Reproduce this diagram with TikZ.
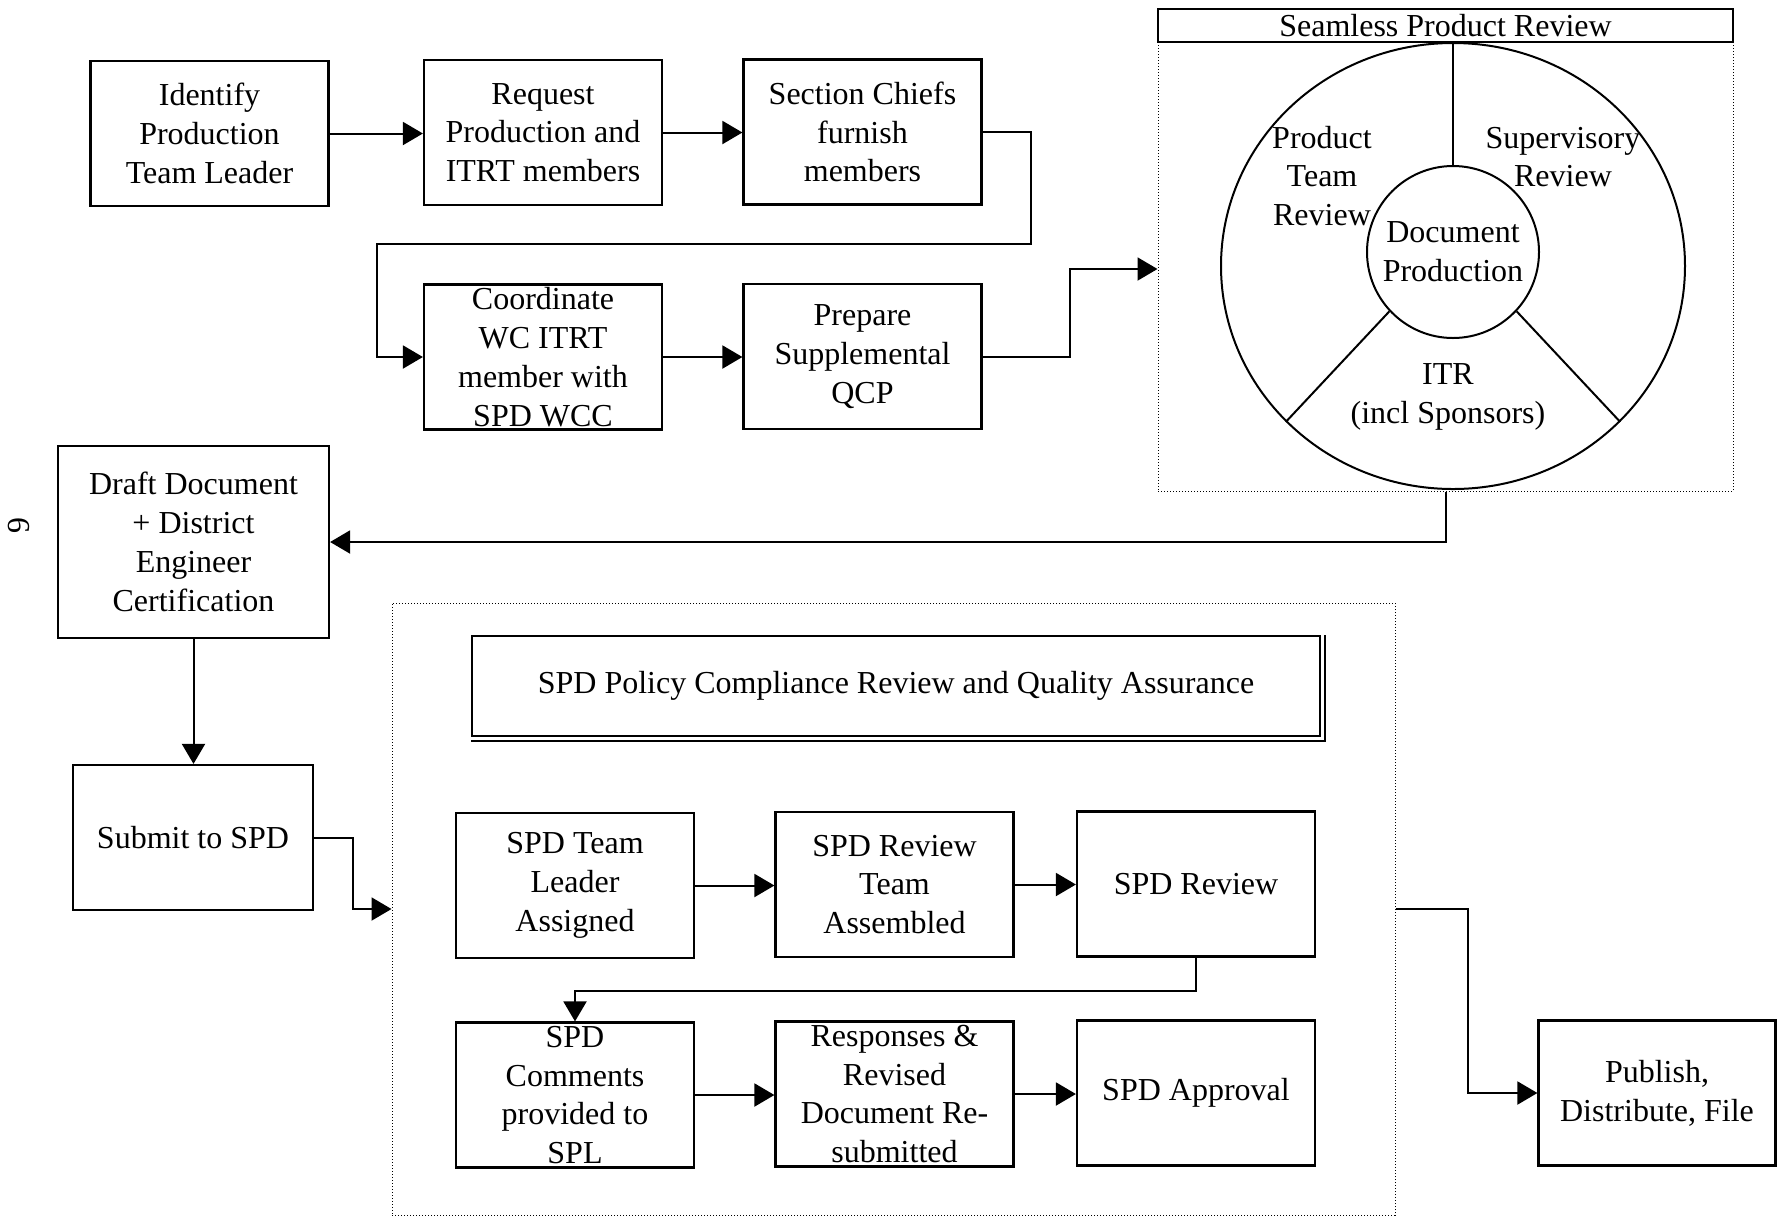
\documentclass[tikz,border=0pt]{standalone}
\usepackage{fontspec}
\setmainfont{Liberation Serif}
\usetikzlibrary{arrows.meta,shapes.geometric}

\tikzset{every picture/.style={line width=1pt}}
\tikzset{
  procbox/.style={draw, line width=1.1pt, minimum width=119pt, minimum height=72.5pt, inner sep=0pt, align=center, font=\fontsize{16}{19.4}\selectfont},
  txt/.style={inner sep=0pt, align=center, font=\fontsize{16}{19.4}\selectfont},
  dotframe/.style={draw, line width=0.5pt, dash pattern=on 0.5pt off 1pt, inner sep=0pt},
  flow/.style={line width=1pt, -{Triangle[length=10pt,width=11.5pt]}}
}

\begin{document}
\begin{tikzpicture}[x=0.5pt,y=0.5pt,yscale=-1,xscale=1]
\useasboundingbox (0,0) rectangle (1778,1217);

% page number
\node[txt, rotate=-90] (pagenum) at (19,525) {6};

%Shape: top row
\node[procbox] (ident) at (209.5,133.5) {Identify\\Production\\Team Leader};
\node[procbox] (request) at (543,132.5) {Request\\Production and\\ITRT members};
\node[procbox] (chiefs) at (862.5,132) {Section Chiefs\\furnish\\members};

%Shape: second row
\node[procbox] (coord) at (543,357) {Coordinate\\WC ITRT\\member with\\SPD WCC};
\node[procbox] (prep) at (862.5,356.5) {Prepare\\Supplemental\\QCP};

%Shape: Seamless Product Review
\node[dotframe, minimum width=287.5pt, minimum height=241pt] (spr) at (1445.5,250) {};
\node[draw, line width=1pt, minimum width=287.5pt, minimum height=16.5pt, inner sep=0pt, font=\fontsize{16}{19.4}\selectfont] (sprtitle) at (1445.5,25.5) {Seamless Product Review};
\node[draw, ellipse, line width=1pt, inner sep=0pt, minimum width=232pt, minimum height=223pt] (ring) at (1453,266) {};
\node[draw, circle, line width=1pt, inner sep=0pt, minimum size=86pt, txt] (docprod) at (1453,252) {Document\\Production};
\draw (docprod.north) -- (ring.north);
\draw (docprod.223) -- (ring.223);
\draw (docprod.317) -- (ring.317);
% Text Node
\node[txt] (ptreview) at (1322,176) {Product\\Team\\Review};
\node[txt] (supreview) at (1563,157) {Supervisory\\Review};
\node[txt] (itr) at (1448,397) {ITR\\(incl Sponsors)};

%Shape: left column
\node[procbox, minimum width=135.5pt, minimum height=96pt] (draft) at (193.5,542) {Draft Document\\+ District\\Engineer\\Certification};
\node[procbox, minimum width=120pt] (submit) at (193,837.5) {Submit to SPD};

%Shape: SPD review frame
\node[dotframe, minimum width=501.5pt, minimum height=306pt] (spdframe) at (893.5,909) {};
\node[draw, line width=1pt, minimum width=424pt, minimum height=50pt, inner sep=0pt, font=\fontsize{16}{19.4}\selectfont] (spdtitle) at (896,686) {SPD Policy Compliance Review and Quality Assurance};
\draw ([yshift=2pt]spdtitle.south west) -| ([xshift=2pt]spdtitle.north east);

\node[procbox] (leader) at (575,885.5) {SPD Team\\Leader\\Assigned};
\node[procbox] (assembled) at (894.5,884.5) {SPD Review\\Team\\Assembled};
\node[procbox] (review) at (1196,884) {SPD Review};
\node[procbox] (comments) at (575,1095) {SPD\\Comments\\provided to\\SPL};
\node[procbox] (responses) at (894.5,1094) {Responses \&\\Revised\\Document Re-\\submitted};
\node[procbox] (approval) at (1196,1093) {SPD Approval};

\node[procbox, minimum width=118.5pt] (publish) at (1657,1093) {Publish,\\Distribute, File};

%Straight Lines
\coordinate (coordin) at ([xshift=-23pt]coord.west);
\coordinate (sprin) at ([yshift=9.5pt]spr.west);
\draw[flow] (ident.east) -- (ident.east -| request.west);
\draw[flow] (request.east) -- (request.east -| chiefs.west);
\draw[flow] (chiefs.east) -- ++(48,0) -- ++(0,112) -| (coordin) -- (coord.west);
\draw[flow] (coord.east) -- (coord.east -| prep.west);
\draw[flow] (prep.east) -- ++(87,0) |- (sprin);
\draw[flow] (spr.south) |- (draft.east);
\draw[flow] (draft.south) -- (draft.south |- submit.north);
\draw[flow] (submit.east) -- ++(39,0) |- (spdframe.west);
\draw[flow] (leader.east) -- (leader.east -| assembled.west);
\draw[flow] (assembled.east) -- (assembled.east -| review.west);
\draw[flow] (review.south) -- ++(0,33) -| (comments.north);
\draw[flow] (comments.east) -- (comments.east -| responses.west);
\draw[flow] (responses.east) -- (responses.east -| approval.west);
\draw[flow] (spdframe.east) -- ++(72,0) |- (publish.west);

\end{tikzpicture}
\end{document}
